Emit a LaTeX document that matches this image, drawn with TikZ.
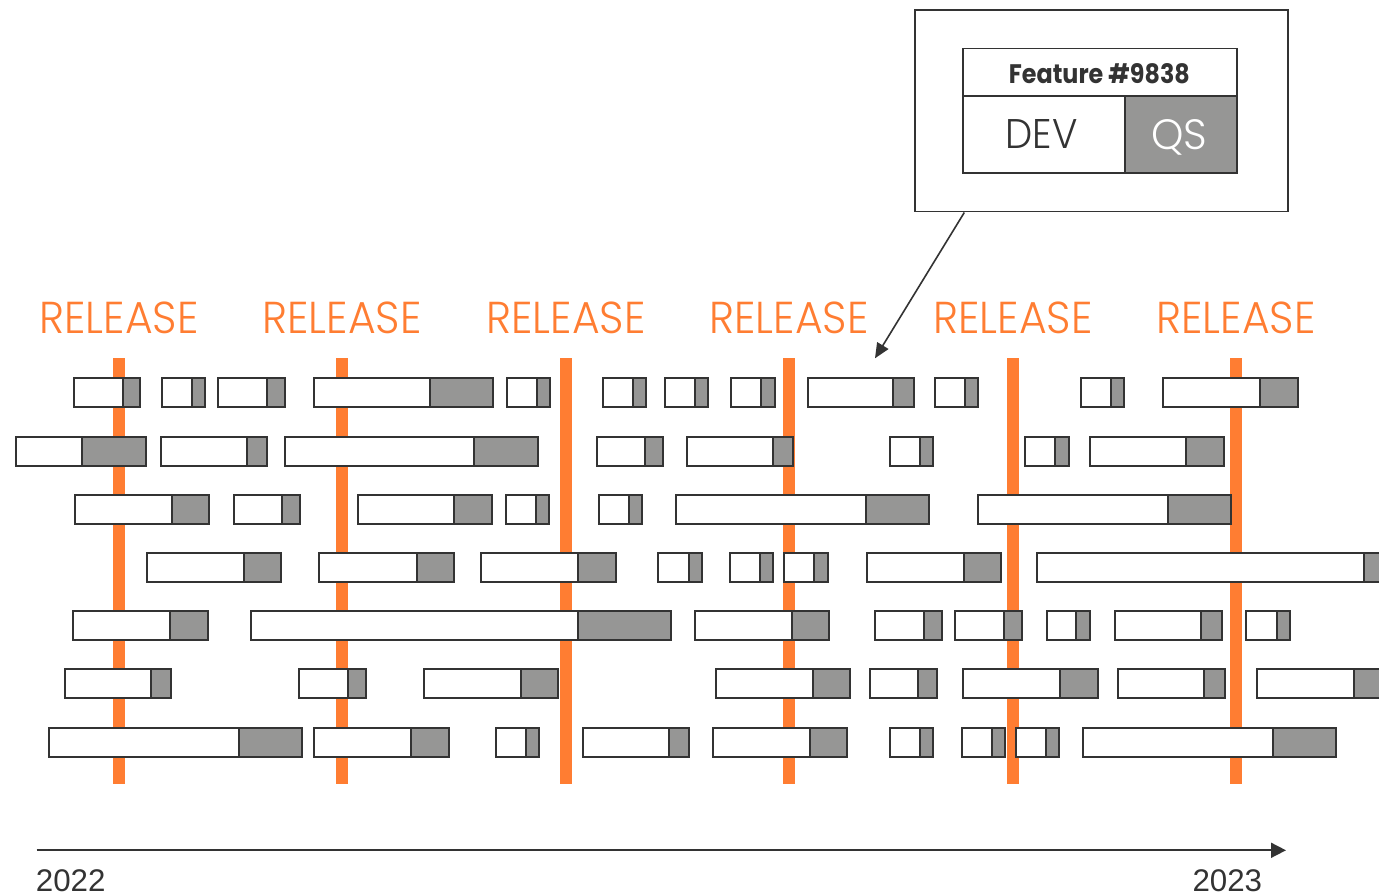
\documentclass[tikz,border=0pt]{standalone}
\usepackage{fontspec}
\setmainfont{Poppins}
\newfontfamily\lightfont{Poppins Light}
\newfontfamily\yearfont{Liberation Sans}
\usetikzlibrary{arrows.meta}
\definecolor{relorange}{RGB}{255,125,50}
\definecolor{qsgray}{RGB}{150,150,149}
\definecolor{inkgray}{RGB}{51,51,51}
\tikzset{
  barline/.style={draw=inkgray,line width=1.8pt},
  relline/.style={draw=relorange,line width=12pt},
  reltext/.style={text=relorange,inner sep=0pt,anchor=base},
  cell/.style={draw=inkgray,line width=1.8pt,inner sep=0pt,anchor=north west},
  yeartext/.style={text=inkgray,inner sep=0pt,anchor=base west,font=\yearfont\fontsize{31.3}{36}\selectfont},
  connector/.style={draw=inkgray,line width=1.6pt,-{Triangle[length=15pt,width=13pt]}},
}
\newcommand\featbar[4]{%
  \fill[white] ({#2+1},#1) rectangle ({#3+1},{#1+29});
  \fill[qsgray] ({#3+1},#1) rectangle ({#4-1},{#1+29});
  \draw[barline] ({#2+1},#1) rectangle ({#4-1},{#1+29});
  \draw[barline] ({#3+1},#1) -- ({#3+1},{#1+29});}
\newcommand\featrow[2]{\foreach \a/\b/\c in {#2} {\featbar{#1}{\a}{\b}{\c}}}
\begin{document}
\begin{tikzpicture}[x=1pt,y=-1pt]
\useasboundingbox (0,0) rectangle (1379,896);
\clip (0,0) rectangle (1379,896);
\fill[white] (0,0) rectangle (1379,896);
% release lines and labels
\foreach \x [count=\i] in {119,342,566,789,1013,1236} {
  \draw[relline] (\x,358.3) -- (\x,783.7);
  \node[reltext] (rel\i) at (\x,333.3) {\resizebox{159pt}{31.6pt}{\lightfont RELEASE}};
}
% feature bars
\featrow{378.3}{73/122/141.3, 161.3/191.3/206.3, 217/266/285.7, 312.7/429/494.3, 505.7/536/551, 601.7/631.7/647, 664/694.3/709.3, 730.3/760.3/775.7, 806.7/892.3/914.7, 934/964/979.3, 1079.7/1110/1125, 1162.3/1259.3/1299}
\featrow{437}{15/81.3/146.7, 159.7/245.7/267.7, 283.7/473.3/538.7, 595.7/644.3/664, 686/772/794, 889/919.3/934.3, 1024/1054.3/1070, 1088.7/1185.3/1225}
\featrow{495}{73.7/171.3/210.3, 232.7/281.3/301.3, 357/453.3/493.3, 504.7/534.7/550, 598/628.3/643.3, 675.3/864.7/930, 977.3/1166.7/1232.3}
\featrow{553.3}{145.7/243/282.3, 318.3/415.7/455, 479.7/577/616.7, 657/687.7/703, 729/759.3/774.3, 783/813.3/828.7, 866/963.3/1002, 1036.3/1363.3/1400}
\featrow{611}{72/169.3/208.7, 249.7/577/672.3, 694/791.3/830.3, 874.3/923.3/943, 954.3/1003/1022.7, 1045.7/1075.3/1090.7, 1114.3/1199.7/1222.7, 1245/1275.7/1290.7}
\featrow{669.3}{64/150/172.3, 298.3/347/367, 423/520.3/559.3, 714.7/812/851.3, 869/917.3/937.7, 962.3/1059/1099, 1117.3/1203.3/1225.7, 1256/1353.3/1400}
\featrow{727.7}{48.3/237.7/303, 313/410/449.7, 494.7/525.3/540.3, 582.3/667.7/690, 711.7/808.7/848, 889.3/919.3/934.3, 960.7/991.3/1006, 1015/1045.3/1060.3, 1082.3/1272.3/1337}
% callout
\node[cell,fill=white,minimum width=372.4pt,minimum height=201.4pt] (callout) at (914.3,9.3) {};
\node[cell,fill=white,minimum width=273.7pt,minimum height=47.8pt] (title) at (962,47.7) {};
\node[cell,fill=white,minimum width=161.7pt,minimum height=76.8pt] (dev) at (962,95.5) {};
\node[cell,fill=qsgray,minimum width=112pt,minimum height=76.8pt] (qs) at (1123.7,95.5) {};
\node[inner sep=0pt,anchor=base,text=inkgray] (titletext) at (1099.4,83.3) {\resizebox{181pt}{20pt}{\bfseries Feature \#9838}};
\node[inner sep=0pt,anchor=base,text=inkgray] (devtext) at (1041.5,149) {\resizebox{72pt}{29pt}{\lightfont DEV}};
\node[inner sep=0pt,anchor=base,text=white] (qstext) at (1179.5,149.5) {\resizebox{56pt}{30pt}{\lightfont QS}};
\coordinate (tip) at (875,358.3);
\draw[connector] ([xshift=50pt]callout.south west) -- (tip);
% time axis
\coordinate (axstart) at (36.7,850.3);
\coordinate (axend) at (1286,850.3);
\draw[connector,line width=1.7pt,-{Triangle[length=15pt,width=15pt]}] (axstart) -- (axend);
\node[yeartext] (y2022) at (35.7,891.7) {2022};
\node[yeartext] (y2023) at (1192.3,891.7) {2023};
\end{tikzpicture}
\end{document}
